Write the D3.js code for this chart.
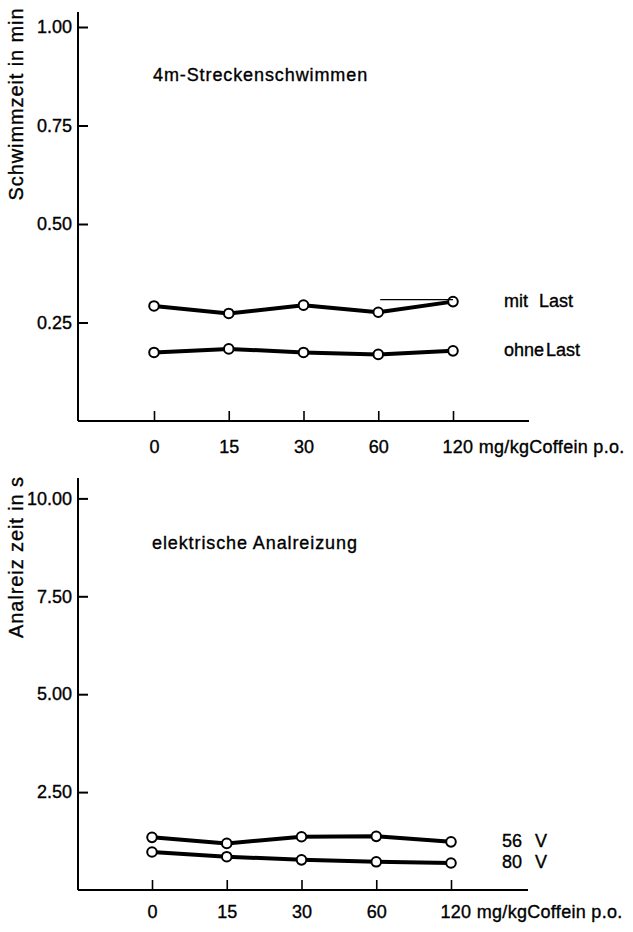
<!DOCTYPE html>
<html>
<head>
<meta charset="utf-8">
<script src="https://cdnjs.cloudflare.com/ajax/libs/d3/7.8.5/d3.min.js"></script>
<style>
  body { margin: 0; background: #fff; }
  text { font-family: "Liberation Sans", Arial, sans-serif; fill: #000; stroke: #000; stroke-width: 0.35px; }
</style>
</head>
<body>
<svg width="633" height="932"></svg>
<script>
// data
var doses = ["0", "15", "30", "60", "120"];

var mitLast = [0.292, 0.273, 0.294, 0.276, 0.303];
var ohneLast = [0.174, 0.183, 0.174, 0.169, 0.178];
var topTicks = [0.25, 0.50, 0.75, 1.00];

var v56 = [1.345, 1.19, 1.36, 1.37, 1.23];
var v80 = [0.97, 0.85, 0.77, 0.72, 0.69];
var bottomTicks = [2.5, 5.0, 7.5, 10.0];

var svg = d3.select("svg");

// one panel: axes, lines, circles, labels
function panel(opt) {
    var g = svg.append("g");

    var x = d3.scalePoint()
        .domain(doses)
        .range(opt.xRange);

    var y = d3.scaleLinear()
        .domain(opt.yDomain)
        .range(opt.yRange);

    // y axis: ticks point right, labels left
    var yAxis = g.append("g")
        .attr("transform", "translate(" + opt.axisX + ",0)")
        .call(d3.axisLeft(y)
            .tickValues(opt.yTicks)
            .tickSizeInner(-10)
            .tickSizeOuter(0)
            .tickPadding(6)
            .tickFormat(d3.format(".2f")));
    yAxis.select(".domain").remove();
    yAxis.selectAll(".tick line").attr("stroke", "#000").attr("stroke-width", 2);
    yAxis.selectAll(".tick text")
        .style("font-size", "18px")
        .style("font-family", "'Liberation Sans', Arial, sans-serif")
        .attr("fill", "#000");

    // x axis: ticks point up
    var xAxis = g.append("g")
        .attr("transform", "translate(0," + opt.axisY + ")")
        .call(d3.axisBottom(x)
            .tickSizeInner(-10)
            .tickSizeOuter(0)
            .tickPadding(opt.xPad));
    xAxis.select(".domain").remove();
    xAxis.selectAll(".tick line").attr("stroke", "#000").attr("stroke-width", 1.6);
    xAxis.selectAll(".tick text")
        .style("font-size", "18px")
        .style("font-family", "'Liberation Sans', Arial, sans-serif")
        .attr("fill", "#000")
        .each(function (d) {
            if (d === "120") {
                d3.select(this)
                    .attr("text-anchor", "start")
                    .attr("x", -11)
                    .style("letter-spacing", "0.3px")
                    .text("120 mg/kgCoffein p.o.");
            }
        });

    // axis lines
    g.append("line")
        .attr("x1", opt.axisX).attr("x2", opt.axisX)
        .attr("y1", opt.axisTop).attr("y2", opt.axisY)
        .attr("stroke", "#000").attr("stroke-width", 2);
    g.append("line")
        .attr("x1", opt.axisX).attr("x2", opt.axisRight)
        .attr("y1", opt.axisY).attr("y2", opt.axisY)
        .attr("stroke", "#000").attr("stroke-width", 2);

    var line = d3.line()
        .x(function (d, i) { return x(doses[i]); })
        .y(function (d) { return y(d); });

    opt.series.forEach(function (s) {
        g.append("path")
            .datum(s.values)
            .attr("d", line)
            .attr("fill", "none")
            .attr("stroke", "#000")
            .attr("stroke-width", 4)
            .attr("stroke-linejoin", "round");

        g.selectAll(null)
            .data(s.values)
            .enter()
            .append("circle")
            .attr("cx", function (d, i) { return x(doses[i]); })
            .attr("cy", function (d) { return y(d); })
            .attr("r", 4.8)
            .attr("fill", "#fff")
            .attr("stroke", "#000")
            .attr("stroke-width", 2);

        var last = s.values[s.values.length - 1];
        g.append("text")
            .attr("x", x("120") + 51)
            .attr("y", y(last) + 5)
            .style("font-size", "18px")
            .style("word-spacing", s.wordSpacing)
            .text(s.name);
    });

    // panel title
    g.append("text")
        .attr("x", opt.titleX)
        .attr("y", opt.titleY)
        .style("font-size", "18px")
        .style("letter-spacing", "0.9px")
        .text(opt.title);

    // rotated y label
    g.append("text")
        .attr("transform", "translate(23," + opt.labelY + ") rotate(-90)")
        .attr("text-anchor", "middle")
        .style("font-size", "20px")
        .style("letter-spacing", "0.9px")
        .text(opt.yLabel);

    return { x: x, y: y, g: g };
}

var topPanel = panel({
    xRange: [154, 453],
    yDomain: [0, 1],
    yRange: [421, 27],
    yTicks: topTicks,
    axisX: 78, axisY: 421, axisTop: 12, axisRight: 529,
    xPad: 19,
    series: [
        { name: "mit Last", values: mitLast, wordSpacing: "6px" },
        { name: "ohne Last", values: ohneLast, wordSpacing: "-3px" }
    ],
    title: "4m-Streckenschwimmen", titleX: 153, titleY: 81,
    yLabel: "Schwimmzeit in min", labelY: 104
});

// thin stray stroke above the mit Last line, between 60 and 120
topPanel.g.append("line")
    .attr("x1", topPanel.x("60") + 2).attr("x2", topPanel.x("120"))
    .attr("y1", topPanel.y(mitLast[4]) - 2).attr("y2", topPanel.y(mitLast[4]) - 2)
    .attr("stroke", "#000").attr("stroke-width", 1.2);

var bottomPanel = panel({
    xRange: [152, 451],
    yDomain: [0, 10],
    yRange: [890, 498.4],
    yTicks: bottomTicks,
    axisX: 78, axisY: 890, axisTop: 478, axisRight: 528,
    xPad: 15,
    series: [
        { name: "56 V", values: v56, wordSpacing: "8px" },
        { name: "80 V", values: v80, wordSpacing: "8px" }
    ],
    title: "elektrische Analreizung", titleX: 152, titleY: 549,
    yLabel: "Analreiz zeit in s", labelY: 557
});
</script>
</body>
</html>
